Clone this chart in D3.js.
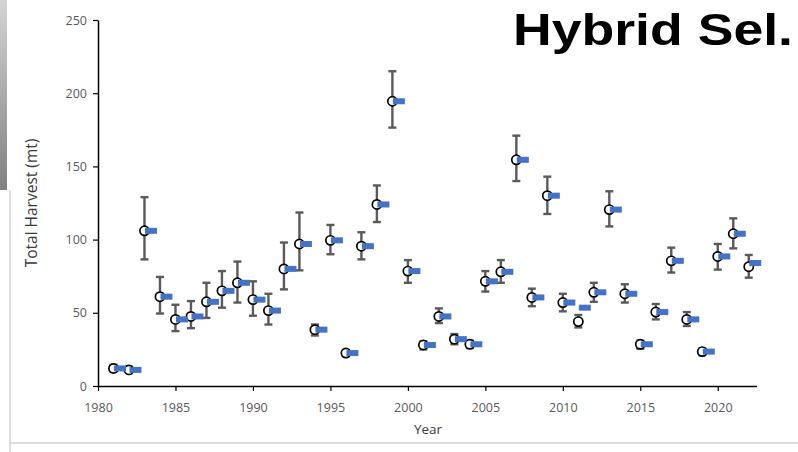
<!DOCTYPE html>
<html>
<head>
<meta charset="utf-8">
<script src="https://cdn.jsdelivr.net/npm/d3@7/dist/d3.min.js"></script>
<style>
  html, body { margin: 0; padding: 0; background: #fff; }
  svg { display: block; }
</style>
</head>
<body>
<svg id="chart" width="798" height="452"></svg>
<script>
// Annual total harvest (mt) with uncertainty range, and the fitted estimate per year
const years = d3.range(1981, 2023);
const harvest = [12, 11, 106, 61, 45.5, 47.5, 57.5, 65, 70.5, 59,
  51.5, 80, 97, 38.5, 99.5, 22.5, 95.5, 124, 194.5, 78.5,
  28, 47.5, 32, 28.5, 71.5, 78, 154.5, 60.5, 130, 57,
  44, 64, 120.5, 63, 28.5, 50.5, 85.5, 45.5, 23.5, 88.5,
  104, 81.5];
const upper = [14.5, 13, 129, 74.5, 55.5, 58, 70.5, 78.5, 85, 71.5,
  63, 98, 118.5, 42, 110, 24.5, 105, 137, 215, 86,
  30.5, 53, 35.5, 31, 78.5, 86, 171, 66.5, 143, 63,
  48.5, 70.5, 133, 69.5, 31, 56, 94.5, 50.5, 25.5, 97,
  114.5, 89.5];
const lower = [10, 9.5, 86.5, 49.5, 37.5, 39.5, 46.5, 53.5, 57, 48,
  42, 66, 79, 34.5, 90, 20.5, 86.5, 112, 176.5, 70.5,
  25, 43, 28.5, 26, 64.5, 70.5, 140, 54.5, 117.5, 51,
  40, 57.5, 109, 57, 25.5, 45.5, 77.5, 41, 21, 79.5,
  94, 74];
const estimate = [12, 11, 106, 61, 45.5, 47.5, 57.5, 65, 70.5, 59,
  51.5, 80, 97, 38.5, 99.5, 22.5, 95.5, 124, 194.5, 78.5,
  28, 47.5, 32, 28.5, 71.5, 78, 154.5, 60.5, 130, 57,
  53.5, 64, 120.5, 63, 28.5, 50.5, 85.5, 45.5, 23.5, 88.5,
  104, 84];
const xTicks = [1980, 1985, 1990, 1995, 2000, 2005, 2010, 2015, 2020];
const yTicks = [0, 50, 100, 150, 200, 250];

const rows = years.map((y, i) => ({
  year: y, value: harvest[i], hi: upper[i], lo: lower[i], est: estimate[i]
}));

const svg = d3.select("#chart");
const font = "'Open Sans', 'Liberation Sans', sans-serif";

// slide frame decorations
const defs = svg.append("defs");
const grad = defs.append("linearGradient").attr("id", "edge")
  .attr("x1", 0).attr("y1", 0).attr("x2", 0).attr("y2", 1);
grad.append("stop").attr("offset", "0%").attr("stop-color", "#d4d4d4");
grad.append("stop").attr("offset", "100%").attr("stop-color", "#808080");
svg.append("rect").attr("x", 0).attr("y", 0).attr("width", 7).attr("height", 190)
  .attr("fill", "url(#edge)");
svg.append("line").attr("x1", 10).attr("x2", 10).attr("y1", 190).attr("y2", 452)
  .attr("stroke", "#dcdcdc").attr("stroke-width", 2);
svg.append("line").attr("x1", 10).attr("x2", 798).attr("y1", 443).attr("y2", 443)
  .attr("stroke", "#dcdcdc").attr("stroke-width", 2);

const x = d3.scaleLinear().domain([1980, 2022.5]).range([98, 756.5]);
const y = d3.scaleLinear().domain([0, 250]).range([386, 20]);

// axes
const xAxis = svg.append("g").attr("transform", `translate(0,${y(0)})`)
  .call(d3.axisBottom(x).tickValues(xTicks).tickFormat(d3.format("d")).tickSize(5).tickSizeOuter(0));
const yAxis = svg.append("g").attr("transform", `translate(${x(1980)},0)`)
  .call(d3.axisLeft(y).tickValues(yTicks).tickSize(5).tickSizeOuter(0));
[xAxis, yAxis].forEach(g => {
  g.select(".domain").attr("stroke", "#000").attr("stroke-width", 1.5);
  g.selectAll(".tick line").attr("stroke", "#000").attr("stroke-width", 1.2);
  g.selectAll(".tick text").attr("fill", "#595959")
    .style("font-family", font).style("font-size", "12.5px");
});
xAxis.selectAll(".tick text").attr("dy", "0.95em").attr("y", 14);
yAxis.selectAll(".tick text").attr("x", -11);

// axis titles
svg.append("text").attr("x", 428).attr("y", 434).attr("text-anchor", "middle")
  .attr("fill", "#3a3a3a").style("font-family", font).style("font-size", "13.5px")
  .text("Year");
svg.append("text").attr("transform", "translate(37,203) rotate(-90)")
  .attr("text-anchor", "middle").attr("fill", "#3a3a3a")
  .style("font-family", font).style("font-size", "15.5px")
  .text("Total Harvest (mt)");

// error bars
const eb = svg.append("g").attr("stroke", "#5a5a5a").attr("stroke-width", 2.4);
eb.selectAll("line.v").data(rows).join("line").attr("class", "v")
  .attr("x1", d => x(d.year)).attr("x2", d => x(d.year))
  .attr("y1", d => y(d.hi)).attr("y2", d => y(d.lo));
eb.selectAll("line.t").data(rows).join("line").attr("class", "t")
  .attr("x1", d => x(d.year) - 4).attr("x2", d => x(d.year) + 4)
  .attr("y1", d => y(d.hi)).attr("y2", d => y(d.hi));
eb.selectAll("line.b").data(rows).join("line").attr("class", "b")
  .attr("x1", d => x(d.year) - 4).attr("x2", d => x(d.year) + 4)
  .attr("y1", d => y(d.lo)).attr("y2", d => y(d.lo));

// observed harvest
svg.append("g").selectAll("circle").data(rows).join("circle")
  .attr("cx", d => x(d.year)).attr("cy", d => y(d.value)).attr("r", 4.6)
  .attr("fill", "#fff").attr("stroke", "#000").attr("stroke-width", 1.7);

// fitted estimate dashes, shifted right of each year
const shift = 0.42;
svg.append("g").selectAll("rect").data(rows).join("rect")
  .attr("x", d => x(d.year + shift) - 6).attr("y", d => y(d.est) - 3)
  .attr("width", 12).attr("height", 6).attr("fill", "#4472c4");

// heading
svg.append("text").attr("x", 513).attr("y", 45)
  .attr("textLength", 280).attr("lengthAdjust", "spacingAndGlyphs")
  .attr("fill", "#000").style("font-family", "'Liberation Sans', Arial, sans-serif")
  .style("font-weight", "bold").style("font-size", "44px")
  .text("Hybrid Sel.");
</script>
</body>
</html>
